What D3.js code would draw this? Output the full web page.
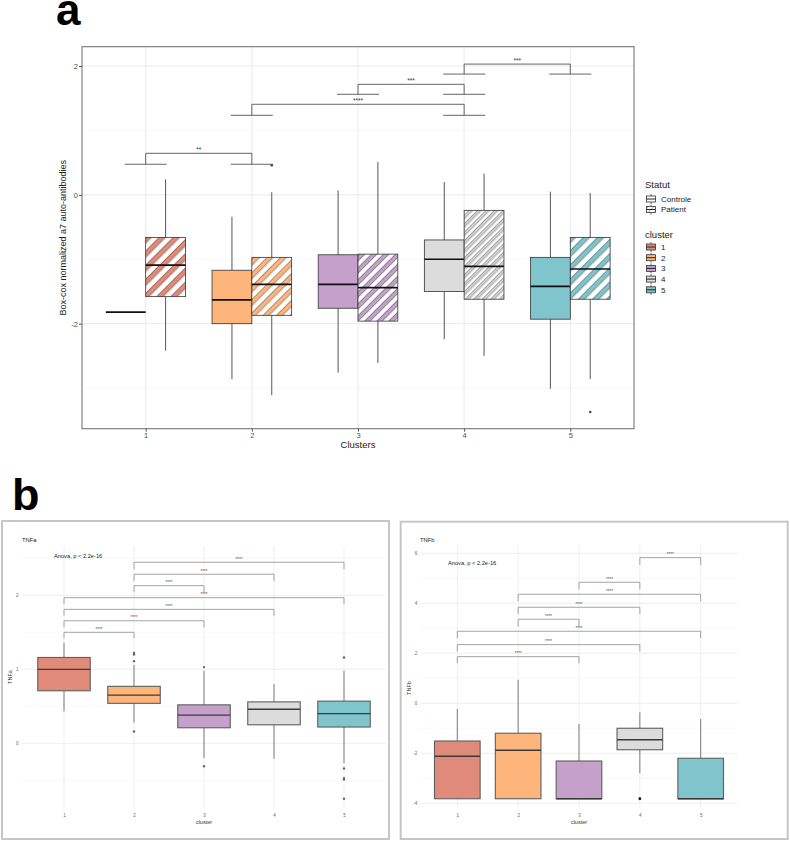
<!DOCTYPE html>
<html>
<head>
<meta charset="utf-8">
<script src="https://cdn.jsdelivr.net/npm/d3@7"></script>
<style>
  body { margin: 0; background: #fff; }
  text { font-family: "Liberation Sans", Arial, sans-serif; }
</style>
</head>
<body>
<svg id="fig" width="790" height="841"></svg>
<script>
// ---------- data ----------
const clusters = ["1", "2", "3", "4", "5"];
const statut = ["Controle", "Patient"];

// panel a : box-cox a7 auto-antibodies, per cluster
const ctrlMin = [-1.82, -2.86, -2.76, -2.24, -3.01];
const ctrlQ1  = [-1.82, -2.00, -1.76, -1.50, -1.93];
const ctrlMed = [-1.82, -1.63, -1.39, -1.00, -1.42];
const ctrlQ3  = [-1.82, -1.17, -0.93, -0.70, -0.97];
const ctrlMax = [-1.82, -0.34, 0.07, 0.20, 0.05];
const ctrlOut = [[], [], [], [], []];

const patMin = [-2.42, -3.11, -2.61, -2.50, -2.86];
const patQ1  = [-1.58, -1.87, -1.96, -1.62, -1.62];
const patMed = [-1.09, -1.39, -1.44, -1.11, -1.15];
const patQ3  = [-0.66, -0.97, -0.92, -0.24, -0.66];
const patMax = [0.24, 0.04, 0.51, 0.33, 0.03];
const patOut = [[], [0.46], [], [], [-3.37]];

// [from, to, bracket level, tip level, label]
const bracketsA = [
  ["1", "2", 0.645, 0.475, "**"],
  ["2", "4", 1.406, 1.235, "****"],
  ["3", "4", 1.716, 1.561, "***"],
  ["4", "5", 2.03, 1.875, "***"]
];
const ticksA = [-2, 0, 2];
const minorA = [-3, -1, 1];

// panel b : TNFa
const tnfaMin = [0.43, 0.28, -0.20, -0.21, -0.27];
const tnfaQ1  = [0.71, 0.54, 0.21, 0.25, 0.22];
const tnfaMed = [1.00, 0.65, 0.38, 0.46, 0.40];
const tnfaQ3  = [1.16, 0.77, 0.52, 0.56, 0.57];
const tnfaMax = [1.36, 1.06, 0.98, 0.80, 0.98];
const tnfaOut = [[], [1.22, 1.20, 1.11, 0.16], [1.03, -0.31], [], [1.16, -0.34, -0.47, -0.49, -0.75]];
const bracketsTnfa = [
  ["2", "5", 2.446, 2.351, "****"],
  ["2", "4", 2.284, 2.193, "****"],
  ["2", "3", 2.13, 2.04, "****"],
  ["1", "5", 1.968, 1.878, "****"],
  ["1", "4", 1.81, 1.724, "****"],
  ["1", "3", 1.656, 1.567, "****"],
  ["1", "2", 1.5, 1.419, "****"]
];
const ticksTnfa = [0, 1, 2];
const minorTnfa = [-0.5, 0.5, 1.5, 2.5];

// panel b : TNFb
const tnfbMin = [-3.82, -3.82, -3.82, -2.80, -3.82];
const tnfbQ1  = [-3.82, -3.82, -3.82, -1.86, -3.82];
const tnfbMed = [-2.12, -1.88, -3.82, -1.46, -3.82];
const tnfbQ3  = [-1.51, -1.20, -2.31, -1.00, -2.20];
const tnfbMax = [-0.23, 0.94, -0.83, -0.36, -0.63];
const tnfbOut = [[], [], [], [-3.82], []];
const bracketsTnfb = [
  ["4", "5", 5.824, 5.532, "****"],
  ["3", "4", 4.84, 4.56, "****"],
  ["2", "5", 4.36, 4.08, "****"],
  ["2", "4", 3.84, 3.572, "****"],
  ["2", "3", 3.36, 3.064, "****"],
  ["1", "5", 2.88, 2.6, "****"],
  ["1", "4", 2.344, 2.064, "****"],
  ["1", "3", 1.864, 1.6, "****"]
];
const ticksTnfb = [-4, -2, 0, 2, 4, 6];
const minorTnfb = [-3, -1, 1, 3, 5];

const anovaText = "Anova, p < 2.2e-16";

// ---------- style ----------
const colours = ["#E08B7A", "#FDB57C", "#C4A0CB", "#DCDCDC", "#80C5CC"];
const hatchGap = [10, 9.5, 8.5, 6, 10];

const svg = d3.select("#fig");
const defs = svg.append("defs");

colours.forEach((col, i) => {
  const p = hatchGap[i];
  const pat = defs.append("pattern")
    .attr("id", "hatch" + i)
    .attr("patternUnits", "userSpaceOnUse")
    .attr("width", p).attr("height", p)
    .attr("patternTransform", "rotate(45)");
  pat.append("rect").attr("width", p).attr("height", p).attr("fill", "#fff");
  pat.append("rect").attr("width", p / 2).attr("height", p).attr("fill", col);
  pat.append("line").attr("x1", 0.3).attr("x2", 0.3).attr("y1", 0).attr("y2", p)
    .attr("stroke", "#444").attr("stroke-width", 0.5);
  pat.append("line").attr("x1", p / 2).attr("x2", p / 2).attr("y1", 0).attr("y2", p)
    .attr("stroke", "#444").attr("stroke-width", 0.5);
});
// legend key hatch
const lp = defs.append("pattern").attr("id", "hatchKey")
  .attr("patternUnits", "userSpaceOnUse").attr("width", 4).attr("height", 4)
  .attr("patternTransform", "rotate(45)");
lp.append("rect").attr("width", 4).attr("height", 4).attr("fill", "#fff");
lp.append("line").attr("x1", 0).attr("x2", 0).attr("y1", 0).attr("y2", 4)
  .attr("stroke", "#444").attr("stroke-width", 0.8);

function rowsOf(mn, q1, md, q3, mx, out) {
  return clusters.map((c, i) => ({
    c: c, i: i, min: mn[i], q1: q1[i], med: md[i], q3: q3[i], max: mx[i], out: out[i]
  }));
}

function drawBoxes(g, x, y, rows, o) {
  const b = g.append("g");
  const cx = d => x(d.c) + o.shift;
  b.selectAll(".wu").data(rows).join("line")
    .attr("x1", cx).attr("x2", cx)
    .attr("y1", d => y(d.max)).attr("y2", d => y(d.q3))
    .attr("stroke", o.whisker).attr("stroke-width", o.ww);
  b.selectAll(".wl").data(rows).join("line")
    .attr("x1", cx).attr("x2", cx)
    .attr("y1", d => y(d.q1)).attr("y2", d => y(d.min))
    .attr("stroke", o.whisker).attr("stroke-width", o.ww);
  b.selectAll(".bx").data(rows.filter(d => d.q3 > d.q1)).join("rect")
    .attr("x", d => cx(d) - o.width / 2)
    .attr("y", d => y(d.q3))
    .attr("width", o.width)
    .attr("height", d => y(d.q1) - y(d.q3))
    .attr("fill", o.fill)
    .attr("stroke", o.stroke).attr("stroke-width", o.sw);
  b.selectAll(".md").data(rows).join("line")
    .attr("x1", d => cx(d) - o.width / 2).attr("x2", d => cx(d) + o.width / 2)
    .attr("y1", d => y(d.med)).attr("y2", d => y(d.med))
    .attr("stroke", o.median).attr("stroke-width", o.mw);
  const pts = rows.flatMap(d => d.out.map(v => ({ c: d.c, v: v })));
  b.selectAll(".ot").data(pts).join("circle")
    .attr("cx", d => x(d.c) + o.shift)
    .attr("cy", d => y(d.v))
    .attr("r", o.r)
    .attr("fill", o.dot);
}

function drawBrackets(g, x, y, list, o) {
  const b = g.append("g");
  b.selectAll("path").data(list).join("path")
    .attr("d", d => "M" + x(d[0]) + "," + y(d[3]) + "V" + y(d[2]) +
      "H" + x(d[1]) + "V" + y(d[3]))
    .attr("fill", "none").attr("stroke", o.stroke).attr("stroke-width", o.sw);
  if (o.tip) {
    const tips = list.flatMap(d => [[d[0], d[3]], [d[1], d[3]]]);
    b.selectAll(".tip").data(tips).join("line")
      .attr("x1", d => x(d[0]) - o.tip).attr("x2", d => x(d[0]) + o.tip)
      .attr("y1", d => y(d[1])).attr("y2", d => y(d[1]))
      .attr("stroke", o.stroke).attr("stroke-width", o.sw);
  }
  b.selectAll("text").data(list).join("text")
    .attr("x", d => (x(d[0]) + x(d[1])) / 2)
    .attr("y", d => y(d[2]) - o.lift)
    .attr("text-anchor", "middle")
    .attr("font-size", o.fs)
    .attr("fill", o.text)
    .text(d => d[4]);
}

// ---------- panel a ----------
svg.append("text").attr("x", 56).attr("y", 25)
  .attr("font-size", 44).attr("font-weight", "bold").text("a");

const A = { l: 82, r: 634, t: 46.7, b: 428.7 };
const ax = d3.scalePoint().domain(clusters).range([A.l, A.r]).padding(0.6);
const ay = d3.scaleLinear().domain([-3.63, 2.3]).range([A.b, A.t]);
const ga = svg.append("g");

ga.selectAll(".gmin").data(minorA).join("line")
  .attr("x1", A.l).attr("x2", A.r).attr("y1", d => ay(d)).attr("y2", d => ay(d))
  .attr("stroke", "#f3f3f3").attr("stroke-width", 0.6);
ga.selectAll(".gmaj").data(ticksA).join("line")
  .attr("x1", A.l).attr("x2", A.r).attr("y1", d => ay(d)).attr("y2", d => ay(d))
  .attr("stroke", "#e8e8e8").attr("stroke-width", 0.9);
ga.selectAll(".gx").data(clusters).join("line")
  .attr("x1", d => ax(d)).attr("x2", d => ax(d)).attr("y1", A.t).attr("y2", A.b)
  .attr("stroke", "#e8e8e8").attr("stroke-width", 0.9);

const dodge = ax.step() * 0.75 / 2;
const boxStyleA = { width: dodge, whisker: "#444", ww: 0.9, stroke: "#333", sw: 0.8,
  median: "#111", mw: 1.6, r: 1.3, dot: "#444" };
drawBoxes(ga, ax, ay, rowsOf(ctrlMin, ctrlQ1, ctrlMed, ctrlQ3, ctrlMax, ctrlOut),
  Object.assign({}, boxStyleA, { shift: -dodge / 2, fill: d => colours[d.i] }));
drawBoxes(ga, ax, ay, rowsOf(patMin, patQ1, patMed, patQ3, patMax, patOut),
  Object.assign({}, boxStyleA, { shift: dodge / 2, fill: d => "url(#hatch" + d.i + ")" }));

drawBrackets(ga, ax, ay, bracketsA,
  { stroke: "#555", sw: 0.9, tip: 21, lift: 1.5, fs: 6.5, text: "#333" });

ga.append("rect").attr("x", A.l).attr("y", A.t)
  .attr("width", A.r - A.l).attr("height", A.b - A.t)
  .attr("fill", "none").attr("stroke", "#777").attr("stroke-width", 1.1);

const yAxisA = ga.append("g").attr("transform", "translate(" + A.l + ",0)")
  .call(d3.axisLeft(ay).tickValues(ticksA).tickSize(3).tickFormat(d => String(d)));
const xAxisA = ga.append("g").attr("transform", "translate(0," + A.b + ")")
  .call(d3.axisBottom(ax).tickSize(3));
[yAxisA, xAxisA].forEach(a => {
  a.select(".domain").remove();
  a.selectAll(".tick line").attr("stroke", "#555");
  a.selectAll(".tick text").attr("fill", "#4d4d4d").attr("font-size", 7.5)
    .attr("font-family", "Liberation Sans, Arial, sans-serif");
});
yAxisA.selectAll(".tick text").attr("x", -4);
xAxisA.selectAll(".tick text").attr("y", 3.5);

ga.append("text").attr("x", (A.l + A.r) / 2).attr("y", 448)
  .attr("text-anchor", "middle").attr("font-size", 9.5).attr("fill", "#222").text("Clusters");
ga.append("text")
  .attr("transform", "translate(66," + ((A.t + A.b) / 2) + ") rotate(-90)")
  .attr("text-anchor", "middle").attr("font-size", 9).attr("fill", "#222")
  .text("Box-cox normalized a7 auto-antibodies");

// legend
const lg = svg.append("g");
function keyGlyph(cy, fill) {
  lg.append("line").attr("x1", 651).attr("x2", 651).attr("y1", cy - 5).attr("y2", cy + 5)
    .attr("stroke", "#444").attr("stroke-width", 0.8);
  lg.append("rect").attr("x", 646.5).attr("y", cy - 3).attr("width", 9).attr("height", 6)
    .attr("fill", fill).attr("stroke", "#333").attr("stroke-width", 0.8);
  lg.append("line").attr("x1", 646.5).attr("x2", 655.5).attr("y1", cy).attr("y2", cy)
    .attr("stroke", "#222").attr("stroke-width", 1);
}
lg.append("text").attr("x", 645).attr("y", 187.5).attr("font-size", 9.5)
  .attr("fill", "#222").text("Statut");
const statY = [199, 209.5];
statut.forEach((s, i) => {
  keyGlyph(statY[i], i === 0 ? "#fff" : "url(#hatchKey)");
  lg.append("text").attr("x", 661).attr("y", statY[i] + 2.8).attr("font-size", 8)
    .attr("fill", "#222").text(s);
});
lg.append("text").attr("x", 645).attr("y", 237.5).attr("font-size", 9.5)
  .attr("fill", "#222").text("cluster");
clusters.forEach((c, i) => {
  const cy = 247 + i * 10.7;
  keyGlyph(cy, colours[i]);
  lg.append("text").attr("x", 661).attr("y", cy + 2.8).attr("font-size", 8)
    .attr("fill", "#222").text(c);
});

// ---------- panel b ----------
svg.append("text").attr("x", 12).attr("y", 510)
  .attr("font-size", 45).attr("font-weight", "bold").text("b");

function panelB(o) {
  const g = svg.append("g");
  g.append("rect").attr("x", o.frame[0]).attr("y", o.frame[1])
    .attr("width", o.frame[2]).attr("height", o.frame[3])
    .attr("fill", "none").attr("stroke", "#c6c6c6").attr("stroke-width", 2);

  const x = d3.scalePoint().domain(clusters).range([o.l, o.r]).padding(0.6);
  const y = d3.scaleLinear().domain(o.domain).range([o.b, o.t]);

  g.selectAll(".gmin").data(o.minor).join("line")
    .attr("x1", o.l).attr("x2", o.r).attr("y1", d => y(d)).attr("y2", d => y(d))
    .attr("stroke", "#f4f4f4").attr("stroke-width", 0.6);
  g.selectAll(".gmaj").data(o.ticks).join("line")
    .attr("x1", o.l).attr("x2", o.r).attr("y1", d => y(d)).attr("y2", d => y(d))
    .attr("stroke", "#ebebeb").attr("stroke-width", 0.8);
  g.selectAll(".gx").data(clusters).join("line")
    .attr("x1", d => x(d)).attr("x2", d => x(d)).attr("y1", o.t).attr("y2", o.b)
    .attr("stroke", "#ebebeb").attr("stroke-width", 0.8);

  drawBoxes(g, x, y, o.rows, {
    shift: 0, width: x.step() * 0.75, whisker: "#7a7a7a", ww: 1, stroke: "#5e5e5e", sw: 1.1,
    median: "#3a3a3a", mw: 1.3, r: o.dotR, dot: o.dotCol, fill: d => colours[d.i]
  });
  drawBrackets(g, x, y, o.brackets,
    { stroke: "#9a9a9a", sw: 0.9, tip: 0, lift: 1.5, fs: 4.5, text: "#555" });

  const ya = g.append("g").attr("transform", "translate(" + o.l + ",0)")
    .call(d3.axisLeft(y).tickValues(o.ticks).tickSize(0).tickFormat(d => String(d)));
  const xa = g.append("g").attr("transform", "translate(0," + o.b + ")")
    .call(d3.axisBottom(x).tickSize(0));
  [ya, xa].forEach(a => {
    a.select(".domain").remove();
    a.selectAll(".tick text").attr("fill", "#666").attr("font-size", 4.5)
      .attr("font-family", "Liberation Sans, Arial, sans-serif");
  });
  ya.selectAll(".tick text").attr("x", -3.5);
  xa.selectAll(".tick text").attr("y", 6).attr("dy", "0.71em");

  g.append("text").attr("x", (o.l + o.r) / 2).attr("y", 823.5)
    .attr("text-anchor", "middle").attr("font-size", 5.5).attr("fill", "#333").text("cluster");
  g.append("text")
    .attr("transform", "translate(" + o.ytx + "," + o.yty + ") rotate(-90)")
    .attr("text-anchor", "middle").attr("font-size", 5.5).attr("fill", "#333").text(o.name);
  g.append("text").attr("x", o.titleX).attr("y", 542)
    .attr("font-size", 5.8).attr("fill", "#222").text(o.name);
  g.append("text").attr("x", o.anova[0]).attr("y", o.anova[1])
    .attr("font-size", 5.7).attr("fill", "#222").text(anovaText);
}

panelB({
  name: "TNFa", frame: [2, 521, 387, 318],
  l: 22, r: 386, t: 546, b: 808, domain: [-0.874, 2.666],
  ticks: ticksTnfa, minor: minorTnfa,
  rows: rowsOf(tnfaMin, tnfaQ1, tnfaMed, tnfaQ3, tnfaMax, tnfaOut),
  brackets: bracketsTnfa, dotR: 1.2, dotCol: "#666",
  ytx: 12, yty: 677, titleX: 22, anova: [54, 558]
});
panelB({
  name: "TNFb", frame: [400.7, 521.7, 387, 317.3],
  l: 420.8, r: 737.2, t: 545, b: 808, domain: [-4.19, 6.33],
  ticks: ticksTnfb, minor: minorTnfb,
  rows: rowsOf(tnfbMin, tnfbQ1, tnfbMed, tnfbQ3, tnfbMax, tnfbOut),
  brackets: bracketsTnfb, dotR: 1.4, dotCol: "#111",
  ytx: 411, yty: 688, titleX: 420, anova: [448, 565.3]
});
</script>
</body>
</html>
